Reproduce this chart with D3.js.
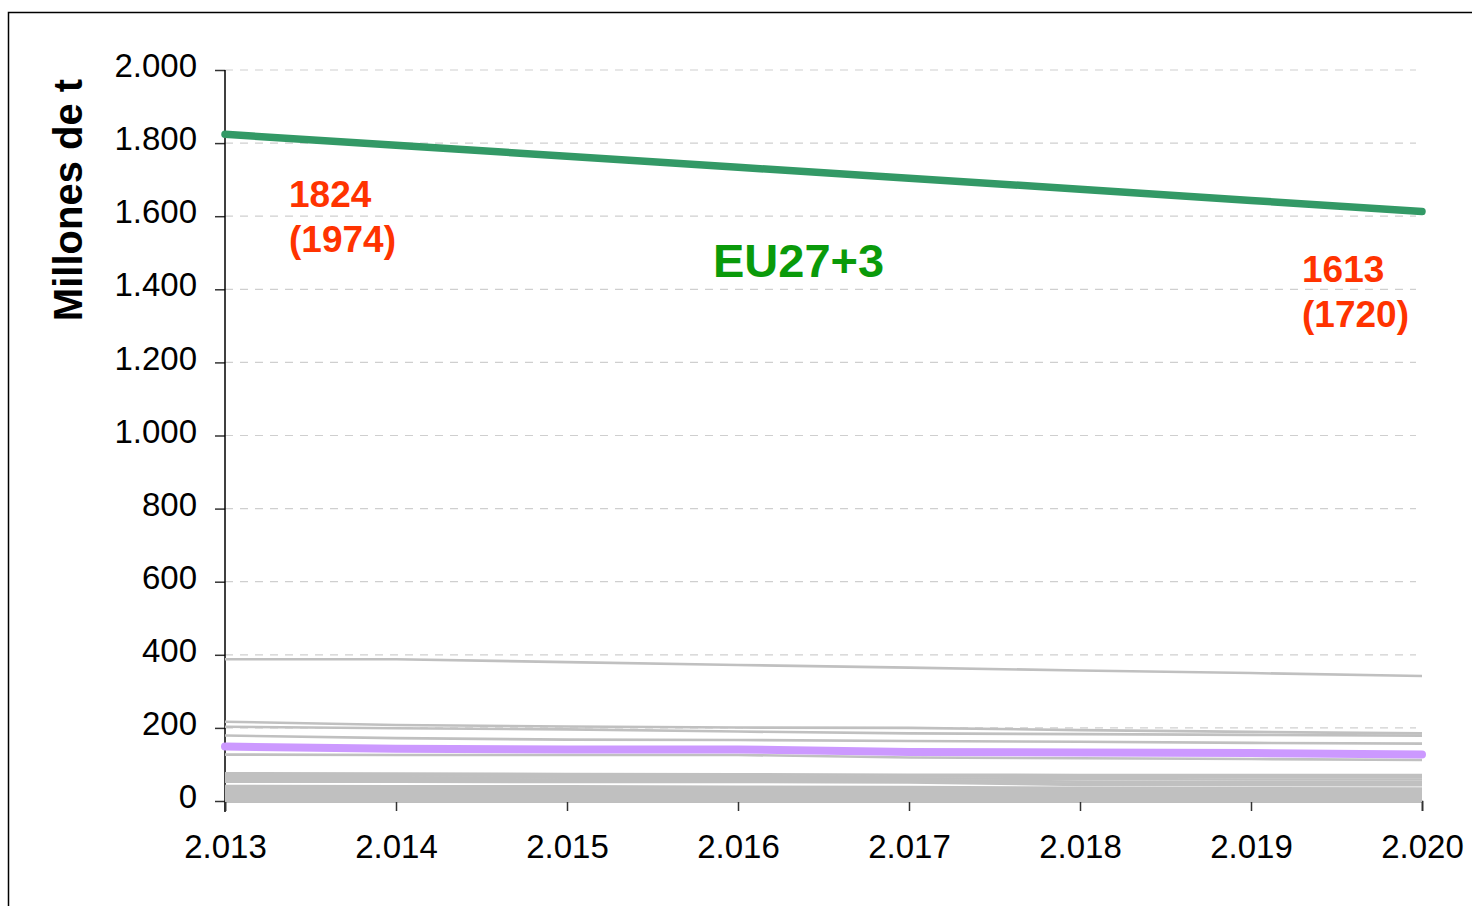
<!DOCTYPE html>
<html>
<head>
<meta charset="utf-8">
<script src="https://cdn.jsdelivr.net/npm/d3@7"></script>
<style>
  html, body { margin: 0; padding: 0; background: #fff; }
  svg { display: block; font-family: "Liberation Sans", Arial, sans-serif; }
</style>
</head>
<body>
<svg id="chart" width="1472" height="906"></svg>
<script>
// ---- data ----
const years = [2013, 2014, 2015, 2016, 2017, 2018, 2019, 2020];
const xTickLabels = ["2.013", "2.014", "2.015", "2.016", "2.017", "2.018", "2.019", "2.020"];
const yTicks = [0, 200, 400, 600, 800, 1000, 1200, 1400, 1600, 1800, 2000];
const yTickLabels = ["0", "200", "400", "600", "800", "1.000", "1.200", "1.400", "1.600", "1.800", "2.000"];

const euTotal = [1824, 1794, 1764, 1734, 1704, 1674, 1643, 1613];
const highlighted = [149, 143, 141, 141, 134, 133, 131, 127];

const country01 = [388, 388, 380, 372, 365, 357, 350, 342];
const country02 = [217, 208, 204, 201, 200, 194, 189, 185];
const country03 = [203, 199, 196, 190, 185, 183, 181, 179];
const country04 = [179, 172, 168, 167, 164, 162, 159, 157];
const country05 = [127, 126, 126, 126, 119, 117, 115, 112];
const country06 = [76, 75, 74, 73, 72, 71, 71, 71];
const country07 = [71, 70, 69, 68, 67, 66, 65, 65];
const country08 = [66, 65, 64, 63, 62, 60, 59, 59];
const country09 = [61, 60, 59, 58, 57, 53, 52, 52];
const country10 = [56, 56, 55, 55, 54, 47, 46, 46];
const country11 = [53, 53, 52, 52, 51, 44, 43, 43];
const country12 = [41, 40, 40, 39, 38, 36, 35, 34];
const country13 = [38, 37, 37, 36, 35, 33, 32, 31];
const country14 = [35, 34, 34, 33, 32, 30, 29, 29];
const country15 = [31, 31, 30, 30, 29, 27, 26, 26];
const country16 = [28, 28, 27, 27, 26, 24, 23, 23];
const country17 = [25, 25, 24, 24, 23, 21, 21, 21];
const country18 = [21, 21, 20, 20, 19, 19, 18, 18];
const country19 = [18, 18, 17, 17, 16, 16, 15, 15];
const country20 = [15, 15, 14, 14, 13, 13, 13, 13];
const country21 = [12, 12, 11, 11, 11, 10, 10, 10];
const country22 = [9, 9, 9, 8, 8, 8, 8, 8];
const country23 = [6, 6, 6, 6, 5, 5, 5, 5];
const country24 = [3, 3, 3, 3, 3, 3, 3, 3];
const country25 = [1, 1, 1, 1, 1, 1, 1, 1];

const otherCountries = [country01, country02, country03, country04, country05, country06,
  country07, country08, country09, country10, country11, country12, country13, country14,
  country15, country16, country17, country18, country19, country20, country21, country22,
  country23, country24, country25];

const startLabel = ["1824", "(1974)"];
const endLabel = ["1613", "(1720)"];
const seriesLabel = "EU27+3";
const yTitle = "Millones de t";

// ---- drawing ----
const svg = d3.select("#chart");

svg.append("rect")
  .attr("x", 8.5).attr("y", 12.5)
  .attr("width", 1500).attr("height", 920)
  .attr("fill", "#fff").attr("stroke", "#000").attr("stroke-width", 1.5);

const x = d3.scaleLinear().domain([2013, 2020]).range([225, 1422]);
const y = d3.scaleLinear().domain([0, 2000]).range([801, 70]);

// gridlines
svg.append("g")
  .selectAll("line")
  .data(yTicks.filter(d => d > 0))
  .join("line")
  .attr("x1", x(2013)).attr("x2", 1416)
  .attr("y1", d => y(d)).attr("y2", d => y(d))
  .attr("stroke", "#cfcfcf").attr("stroke-width", 1.2)
  .attr("stroke-dasharray", "8,7");

// y axis
const yAxis = d3.axisLeft(y)
  .tickValues(yTicks)
  .tickSize(10)
  .tickPadding(18)
  .tickFormat((d, i) => yTickLabels[i]);
const gy = svg.append("g").attr("transform", `translate(${x(2013)},0)`).call(yAxis);
gy.select(".domain").remove();
gy.selectAll(".tick line").attr("stroke", "#333").attr("stroke-width", 1.5);
gy.selectAll(".tick text")
  .attr("font-size", 33).attr("fill", "#000")
  .attr("font-family", "Liberation Sans, Arial, sans-serif")
  .attr("dy", "0.2em");
svg.append("line")
  .attr("x1", x(2013)).attr("x2", x(2013))
  .attr("y1", y(2000)).attr("y2", 812)
  .attr("stroke", "#000").attr("stroke-width", 1.5);

// x axis
const xAxis = d3.axisBottom(x)
  .tickValues(years)
  .tickSize(10)
  .tickPadding(24)
  .tickFormat((d, i) => xTickLabels[i]);
const gx = svg.append("g").attr("transform", `translate(0,${y(0)})`).call(xAxis);
gx.select(".domain").attr("stroke", "#000").attr("stroke-width", 1.5);
gx.selectAll(".tick line").attr("stroke", "#333").attr("stroke-width", 1.5);
gx.selectAll(".tick text")
  .attr("font-size", 33).attr("fill", "#000")
  .attr("font-family", "Liberation Sans, Arial, sans-serif");

// lines
const line = d3.line().x((d, i) => x(years[i])).y(d => y(d));

svg.append("g")
  .selectAll("path")
  .data(otherCountries)
  .join("path")
  .attr("d", line)
  .attr("fill", "none")
  .attr("stroke", "#c0c0c0")
  .attr("stroke-width", 2.6);

svg.append("path")
  .attr("d", line(highlighted))
  .attr("fill", "none")
  .attr("stroke", "#cc99ff")
  .attr("stroke-width", 8)
  .attr("stroke-linecap", "round")
  .attr("stroke-linejoin", "round");

svg.append("path")
  .attr("d", line(euTotal))
  .attr("fill", "none")
  .attr("stroke", "#339966")
  .attr("stroke-width", 7.5)
  .attr("stroke-linecap", "round")
  .attr("stroke-linejoin", "round");

// y title
svg.append("text")
  .attr("transform", "translate(82,200) rotate(-90)")
  .attr("text-anchor", "middle")
  .attr("font-size", 40).attr("font-weight", "bold").attr("fill", "#000")
  .text(yTitle);

// annotations
const ann = svg.append("g").attr("font-weight", "bold").attr("fill", "#ff3300").attr("font-size", 37);
ann.append("text").attr("x", 289).attr("y", 207).text(startLabel[0]);
ann.append("text").attr("x", 289).attr("y", 252).text(startLabel[1]);
ann.append("text").attr("x", 1302).attr("y", 282).text(endLabel[0]);
ann.append("text").attr("x", 1302).attr("y", 327).text(endLabel[1]);

svg.append("text")
  .attr("x", 713).attr("y", 277)
  .attr("font-size", 47).attr("font-weight", "bold").attr("fill", "#0a9a0a")
  .text(seriesLabel);
</script>
</body>
</html>
